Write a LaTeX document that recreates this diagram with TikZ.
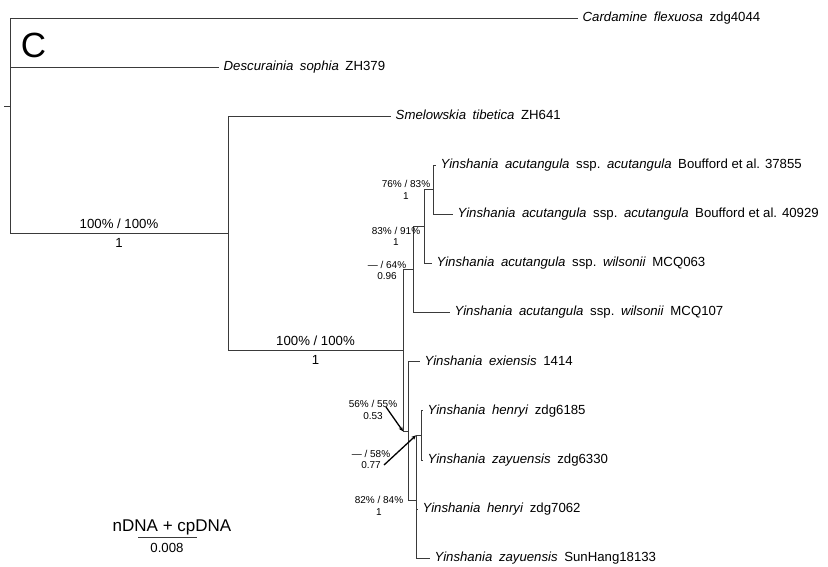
\documentclass[tikz,border=0pt]{standalone}
\usepackage{fontspec}
\setmainfont{Liberation Sans}
\usepackage{tikz}
\usetikzlibrary{arrows.meta}
\definecolor{treeline}{HTML}{3A3A3A}
\newcommand\wsp{\hspace{0.5em}}

\begin{document}
\begin{tikzpicture}[x=1pt,y=-1pt,
      elbow/.style={to path={|- (\tikztotarget) \tikztonodes}},
      tip/.style={anchor=west,inner xsep=4.5pt,inner ysep=0pt,text height=9.5pt,text depth=2.8pt,font=\fontsize{13.2}{15}\selectfont},
      support/.style={align=center,inner sep=0pt,font=\fontsize{10}{11.5}\selectfont},
      bigsupport/.style={inner sep=2.5pt,font=\fontsize{13.2}{15}\selectfont},
      pointer/.style={-{Stealth[length=4.5pt,width=4pt]},line width=1.3pt}]
      \useasboundingbox (0,0) rectangle (828,566);

      % panel letter
      \node[font=\fontsize{35}{40}\selectfont] (panel) at (33.5,45.5) {C};

      % tips
      \node[tip] (cardamine) at (578,18) {\textit{Cardamine}\wsp\textit{flexuosa}\wsp zdg4044};
      \node[tip] (descurainia) at (219,67.1) {\textit{Descurainia}\wsp\textit{sophia}\wsp ZH379};
      \node[tip] (smelowskia) at (391,116.2) {\textit{Smelowskia}\wsp\textit{tibetica}\wsp ZH641};
      \node[tip] (acu37855) at (436,165.3) {\textit{Yinshania}\wsp\textit{acutangula}\wsp ssp.\wsp\textit{acutangula}\wsp Boufford et al. 37855};
      \node[tip] (acu40929) at (453,214.4) {\textit{Yinshania}\wsp\textit{acutangula}\wsp ssp.\wsp\textit{acutangula}\wsp Boufford et al. 40929};
      \node[tip] (wil063) at (432,263.5) {\textit{Yinshania}\wsp\textit{acutangula}\wsp ssp.\wsp\textit{wilsonii}\wsp MCQ063};
      \node[tip] (wil107) at (450,312.6) {\textit{Yinshania}\wsp\textit{acutangula}\wsp ssp.\wsp\textit{wilsonii}\wsp MCQ107};
      \node[tip] (exi1414) at (420,361.7) {\textit{Yinshania}\wsp\textit{exiensis}\wsp 1414};
      \node[tip] (hen6185) at (423,410.8) {\textit{Yinshania}\wsp\textit{henryi}\wsp zdg6185};
      \node[tip] (zay6330) at (423,459.9) {\textit{Yinshania}\wsp\textit{zayuensis}\wsp zdg6330};
      \node[tip] (hen7062) at (418,509) {\textit{Yinshania}\wsp\textit{henryi}\wsp zdg7062};
      \node[tip] (zaySH) at (430,558.1) {\textit{Yinshania}\wsp\textit{zayuensis}\wsp SunHang18133};

      % internal nodes
      \coordinate (stub) at (4,106.1);
      \coordinate (root) at (10,106.1);
      \coordinate (nA) at (228,233.3);
      \coordinate (nB) at (403,350.4);
      \coordinate (n64) at (413,269.6);
      \coordinate (n91) at (424,226.7);
      \coordinate (n83) at (433,189.85);
      \coordinate (n55) at (408,431.25);
      \coordinate (n84) at (416,500.8);
      \coordinate (n58) at (421,435.35);

      \path[draw=treeline,line width=0.8pt]
        (stub) edge (root)
        (root) edge[elbow] (cardamine)
        (root) edge[elbow] (descurainia)
        (root) edge[elbow] node[bigsupport,above=1.5pt,pos=.75] {100\% / 100\%} node[bigsupport,below=2.5pt,pos=.75] {1} (nA)
        (nA) edge[elbow] (smelowskia)
        (nA) edge[elbow] node[bigsupport,above=1.5pt,pos=.75] {100\% / 100\%} node[bigsupport,below=2.5pt,pos=.75] {1} (nB)
        (nB) edge[elbow] (n64)
        (nB) edge[elbow] (n55)
        (n64) edge[elbow] (n91)
        (n64) edge[elbow] (wil107)
        (n91) edge[elbow] (n83)
        (n91) edge[elbow] (wil063)
        (n83) edge[elbow] (acu37855)
        (n83) edge[elbow] (acu40929)
        (n55) edge[elbow] (exi1414)
        (n55) edge[elbow] (n84)
        (n84) edge[elbow] (n58)
        (n84) edge[elbow] (hen7062)
        (n84) edge[elbow] (zaySH)
        (n58) edge[elbow] (hen6185)
        (n58) edge[elbow] (zay6330);

      % support values
      \node[support] (s83) at (406,190) {76\% / 83\%\\1};
      \node[support] (s91) at (396,236.5) {83\% / 91\%\\1};
      \node[support] (s64) at (387,270.5) {— / 64\%\\0.96};
      \node[support] (s55) at (373,410) {56\% / 55\%\\0.53};
      \node[support] (s58) at (371,459.5) {— / 58\%\\0.77};
      \node[support] (s84) at (379,506) {82\% / 84\%\\1};

      \coordinate (p55) at (386,407);
      \coordinate (p58) at (384,465);
      \draw[pointer] (p55) -- ([xshift=-5pt]n55);
      \draw[pointer] (p58) -- ([xshift=-5pt]n58);

      % scale bar
      \coordinate (bar0) at (138,537);
      \coordinate (bar1) at (197,537);
      \draw[treeline,line width=1pt] (bar0) -- (bar1);
      \node[font=\fontsize{17}{20}\selectfont] (scaletitle) at (172,527) {nDNA + cpDNA};
      \node[font=\fontsize{13.2}{15}\selectfont] (scalelen) at (167,548) {0.008};
    \end{tikzpicture}
\end{document}
